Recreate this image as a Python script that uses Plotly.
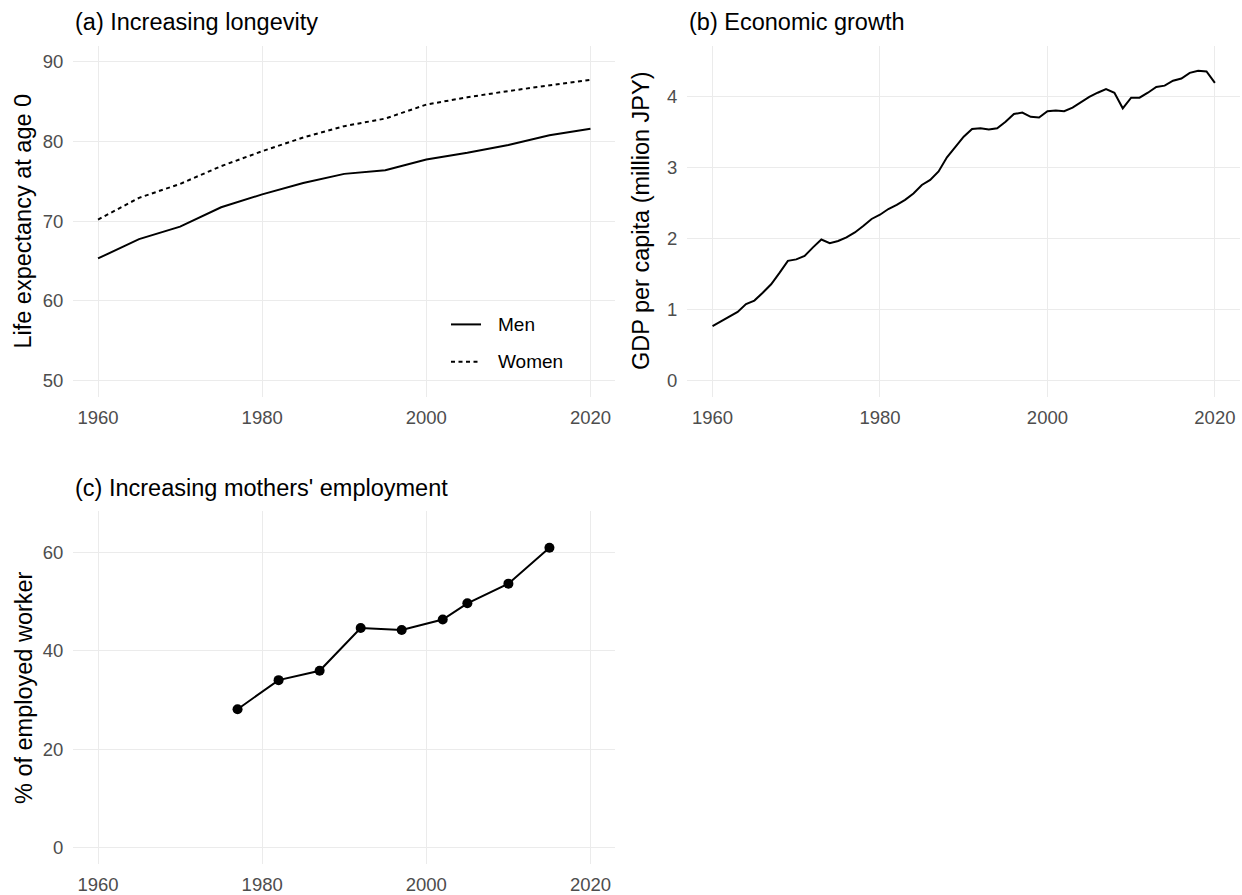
import plotly.graph_objects as go

# ---- data -------------------------------------------------------------
# (a) life expectancy at birth, every five years
life_years = [1960, 1965, 1970, 1975, 1980, 1985, 1990, 1995, 2000, 2005, 2010, 2015, 2020]
life_men = [65.32, 67.74, 69.31, 71.73, 73.35, 74.78, 75.92, 76.38, 77.72, 78.56, 79.55, 80.75, 81.56]
life_women = [70.19, 72.92, 74.66, 76.89, 78.76, 80.48, 81.90, 82.85, 84.60, 85.52, 86.30, 86.99, 87.71]

# (b) real GDP per capita, million JPY
gdp_years = list(range(1960, 2021))
gdp_per_capita = [
    0.77, 0.84, 0.90, 0.97, 1.08, 1.13, 1.24, 1.36, 1.52, 1.69,
    1.71, 1.76, 1.88, 1.99, 1.94, 1.97, 2.02, 2.09, 2.18, 2.28,
    2.34, 2.42, 2.48, 2.55, 2.64, 2.76, 2.83, 2.95, 3.15, 3.30,
    3.44, 3.55, 3.56, 3.54, 3.56, 3.65, 3.76, 3.78, 3.72, 3.71,
    3.80, 3.81, 3.80, 3.85, 3.93, 4.00, 4.06, 4.11, 4.06, 3.84,
    3.99, 3.99, 4.06, 4.14, 4.16, 4.23, 4.26, 4.34, 4.37, 4.36,
    4.20,
]

# (c) mothers in employment, % of employed worker
emp_years = [1977, 1982, 1987, 1992, 1997, 2002, 2005, 2010, 2015]
emp_share = [28.1, 34.0, 35.9, 44.6, 44.2, 46.3, 49.6, 53.6, 60.9]

x_ticks = [1960, 1980, 2000, 2020]
life_ticks = [50, 60, 70, 80, 90]
gdp_ticks = [0, 1, 2, 3, 4]
emp_ticks = [0, 20, 40, 60]

# ---- figure geometry (pixels) ------------------------------------------
W, H = 1242, 895
FONT = "Liberation Sans"
GRID = "#ebebeb"
TICK_COLOR = "#4d4d4d"
WOMEN_DASH = "4px,3.5px"


def fx(p):
    return p / W


def fy(p):
    return 1 - p / H


panel_a = dict(left=73.4, right=615.1, top=45.7, bottom=398.0)
panel_b = dict(left=687.4, right=1240.0, top=45.7, bottom=398.0)
panel_c = dict(left=73.4, right=615.1, top=513.2, bottom=866.5)

fig = go.Figure()

line_style = dict(color="black", width=2)

fig.add_trace(go.Scatter(
    x=life_years, y=life_men, mode="lines", name="Men",
    line=line_style, showlegend=False, xaxis="x", yaxis="y",
))
fig.add_trace(go.Scatter(
    x=life_years, y=life_women, mode="lines", name="Women",
    line=dict(color="black", width=2, dash=WOMEN_DASH),
    showlegend=False, xaxis="x", yaxis="y",
))
fig.add_trace(go.Scatter(
    x=gdp_years, y=gdp_per_capita, mode="lines", name="GDP per capita",
    showlegend=False, line=line_style, xaxis="x2", yaxis="y2",
))
fig.add_trace(go.Scatter(
    x=emp_years, y=emp_share, mode="lines+markers", name="Mothers employed",
    showlegend=False, line=line_style, marker=dict(color="black", size=10),
    xaxis="x3", yaxis="y3",
))


def x_axis(panel, anchor):
    return dict(
        domain=[fx(panel["left"]), fx(panel["right"])],
        anchor=anchor, range=[1957, 2023], tickvals=x_ticks,
        showgrid=True, gridcolor=GRID, gridwidth=1, zeroline=False,
        showline=False, ticks="", ticklabelstandoff=8,
        tickfont=dict(family=FONT, size=18.5, color=TICK_COLOR),
    )


def y_axis(panel, anchor, rng, ticks):
    return dict(
        domain=[fy(panel["bottom"]), fy(panel["top"])],
        anchor=anchor, range=rng, tickvals=ticks,
        showgrid=True, gridcolor=GRID, gridwidth=1, zeroline=False,
        showline=False, ticks="", ticklabelstandoff=9,
        tickfont=dict(family=FONT, size=18.5, color=TICK_COLOR),
    )


annotations = []
shapes = []


def panel_title(text, panel):
    annotations.append(dict(
        text=text, xref="paper", yref="paper",
        x=fx(panel["left"]), y=fy(panel["top"] - 24),
        xanchor="left", yanchor="middle", showarrow=False,
        font=dict(family=FONT, size=23.5, color="black"),
    ))


def y_title(text, xc, panel):
    annotations.append(dict(
        text=text, xref="paper", yref="paper",
        x=fx(xc), y=fy((panel["top"] + panel["bottom"]) / 2),
        xanchor="center", yanchor="middle", textangle=-90, showarrow=False,
        font=dict(family=FONT, size=23.5, color="black"),
    ))


def legend_entry(label, y_px, dash):
    # key line plus label, placed inside panel (a)
    shapes.append(dict(
        type="line", xref="paper", yref="paper",
        x0=fx(451), x1=fx(481), y0=fy(y_px), y1=fy(y_px),
        line=dict(color="black", width=2, dash=dash),
    ))
    annotations.append(dict(
        text=label, xref="paper", yref="paper",
        x=fx(495.5), y=fy(y_px), xanchor="left", yanchor="middle",
        showarrow=False, font=dict(family=FONT, size=19, color="black"),
    ))


panel_title("(a) Increasing longevity", panel_a)
panel_title("(b) Economic growth", panel_b)
panel_title("(c) Increasing mothers' employment", panel_c)
y_title("Life expectancy at age 0", 23.5, panel_a)
y_title("GDP per capita (million JPY)", 641, panel_b)
y_title("% of employed worker", 23.5, panel_c)
legend_entry("Men", 325.5, "solid")
legend_entry("Women", 363, WOMEN_DASH)

fig.update_layout(
    width=W, height=H,
    margin=dict(l=0, r=0, t=0, b=0),
    paper_bgcolor="white", plot_bgcolor="white",
    font=dict(family=FONT, color="black"),
    showlegend=False,
    xaxis=x_axis(panel_a, "y"),
    yaxis=y_axis(panel_a, "x", [48, 92], life_ticks),
    xaxis2=x_axis(panel_b, "y2"),
    yaxis2=y_axis(panel_b, "x2", [-0.225, 4.725], gdp_ticks),
    xaxis3=x_axis(panel_c, "y3"),
    yaxis3=y_axis(panel_c, "x3", [-3.25, 68.25], emp_ticks),
    annotations=annotations,
    shapes=shapes,
)

fig.write_html("out.html")
